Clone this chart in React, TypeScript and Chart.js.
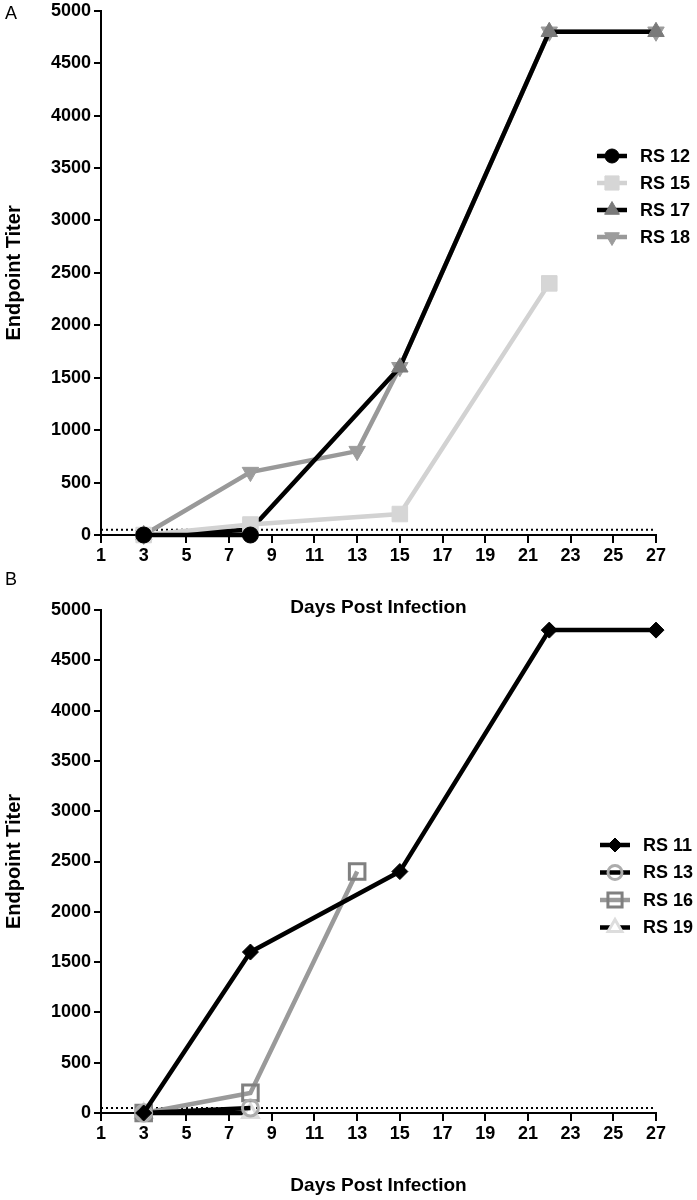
import React, { useEffect, useRef } from "react";
import { Chart, registerables } from "chart.js";
import { drawPoint } from "chart.js/helpers";

Chart.register(...registerables);

// ---------- data ----------
const xTickMin = 1;
const xTickMax = 27;
const xTickStep = 2;
const yTickMax = 5000;
const yTickStep = 500;
const detectionLimit = 50;

// Panel A
const rs12Days = [3, 8];
const rs12Titer = [0, 0];
const rs15Days = [3, 8, 15, 22];
const rs15Titer = [0, 100, 200, 2400];
const rs17Days = [3, 8, 15, 22, 27];
const rs17Titer = [0, 50, 1600, 4800, 4800];
const rs18Days = [3, 8, 13, 15, 22, 27];
const rs18Titer = [0, 600, 800, 1600, 4800, 4800];

// Panel B
const rs11Days = [3, 8, 15, 22, 27];
const rs11Titer = [0, 1600, 2400, 4800, 4800];
const rs13Days = [3, 8];
const rs13Titer = [0, 50];
const rs16Days = [3, 8, 13];
const rs16Titer = [0, 200, 2400];
const rs19Days = [3, 8];
const rs19Titer = [0, 0];

const FONT = "'Liberation Sans', Arial, Helvetica, sans-serif";

const pts = (xs: number[], ys: number[]) => xs.map((x, i) => ({ x, y: ys[i] }));

function series(
  label: string,
  xs: number[],
  ys: number[],
  line: string,
  style: string,
  fill: string,
  border: string,
  radius: number,
  pbw: number,
  rotation = 0
) {
  return {
    label,
    data: pts(xs, ys),
    borderColor: line,
    backgroundColor: line,
    borderWidth: 4.5,
    pointStyle: style,
    pointRotation: rotation,
    pointBackgroundColor: fill,
    pointBorderColor: border,
    pointBorderWidth: pbw,
    pointRadius: radius,
    pointHoverRadius: radius,
    tension: 0,
    clip: false,
  };
}

function limitLine() {
  return {
    label: "",
    data: [
      { x: xTickMin, y: detectionLimit },
      { x: xTickMax, y: detectionLimit },
    ],
    borderColor: "#000",
    borderWidth: 2,
    borderDash: [2, 3],
    pointRadius: 0,
    tension: 0,
    clip: false,
  };
}

const legendPlugin = {
  id: "customLegend",
  afterDraw(chart: any, _args: any, opts: any) {
    const ctx = chart.ctx;
    const dsets = chart.data.datasets.filter((d: any) => d.label);
    ctx.save();
    dsets.forEach((ds: any, i: number) => {
      const y = opts.y + i * opts.spacing;
      const x = opts.x;
      ctx.save();
      ctx.strokeStyle = ds.borderColor;
      ctx.lineWidth = ds.borderWidth;
      ctx.setLineDash(ds.borderDash || []);
      ctx.beginPath();
      ctx.moveTo(x, y);
      ctx.lineTo(x + 30, y);
      ctx.stroke();
      ctx.restore();
      ctx.save();
      ctx.fillStyle = ds.pointBackgroundColor;
      ctx.strokeStyle = ds.pointBorderColor;
      ctx.lineWidth = ds.pointBorderWidth;
      drawPoint(
        ctx,
        {
          pointStyle: ds.pointStyle,
          rotation: ds.pointRotation,
          radius: ds.pointRadius - 1,
          borderWidth: ds.pointBorderWidth,
        } as any,
        x + 15,
        y
      );
      ctx.restore();
      ctx.fillStyle = "#000";
      ctx.font = `bold 18px ${FONT}`;
      ctx.textBaseline = "middle";
      ctx.textAlign = "left";
      ctx.fillText(ds.label, x + 43, y + 1);
    });
    ctx.restore();
  },
};

function makeOptions(xHeight: number, titlePadBottom: number, padTop: number, legend: any) {
  const font = { family: FONT, size: 18, weight: "bold" as const };
  const xTitleFont = { family: FONT, size: 19, weight: "bold" as const };
  const yTitleFont = { family: FONT, size: 20, weight: "bold" as const };
  return {
    responsive: false,
    animation: false as const,
    layout: { padding: { left: 0, top: padTop, right: 41, bottom: 0 } },
    plugins: {
      legend: { display: false },
      tooltip: { enabled: false },
      customLegend: legend,
    },
    scales: {
      x: {
        type: "linear" as const,
        min: xTickMin,
        max: xTickMax,
        ticks: {
          stepSize: xTickStep,
          font,
          color: "#000",
          padding: 2,
          maxRotation: 0,
          callback: (v: any) => String(v),
        },
        grid: { drawOnChartArea: false, drawTicks: true, tickLength: 8, color: "#000", lineWidth: 2 },
        border: { display: true, color: "#000", width: 2 },
        title: {
          display: true,
          text: "Days Post Infection",
          font: xTitleFont,
          color: "#000",
          padding: { top: 0, bottom: titlePadBottom },
        },
        afterFit: (s: any) => {
          s.height = xHeight;
        },
      },
      y: {
        min: 0,
        max: yTickMax,
        ticks: { stepSize: yTickStep, font, color: "#000", padding: 3, callback: (v: any) => String(v) },
        grid: { drawOnChartArea: false, drawTicks: true, tickLength: 7, color: "#000", lineWidth: 2 },
        border: { display: true, color: "#000", width: 2 },
        title: {
          display: true,
          text: "Endpoint Titer",
          font: yTitleFont,
          color: "#000",
          padding: { top: 2, bottom: 0 },
        },
        afterFit: (s: any) => {
          s.width = 101;
        },
      },
    },
  };
}

export default function App() {
  const refA = useRef<HTMLCanvasElement>(null);
  const refB = useRef<HTMLCanvasElement>(null);

  useEffect(() => {
    const a = new Chart(refA.current as HTMLCanvasElement, {
      type: "line",
      data: {
        datasets: [
          series("RS 12", rs12Days, rs12Titer, "#000", "circle", "#000", "#000", 8, 1),
          series("RS 15", rs15Days, rs15Titer, "#d2d2d2", "rect", "#d6d6d6", "#d6d6d6", 11, 1),
          series("RS 17", rs17Days, rs17Titer, "#000", "triangle", "#7a7a7a", "#7a7a7a", 9.5, 1),
          series("RS 18", rs18Days, rs18Titer, "#999999", "triangle", "#9c9c9c", "#9c9c9c", 9.5, 1, 180),
          limitLine(),
        ] as any,
      },
      options: makeOptions(90, 6, 7, { x: 597, y: 159, spacing: 27 }) as any,
      plugins: [legendPlugin],
    });
    const b = new Chart(refB.current as HTMLCanvasElement, {
      type: "line",
      data: {
        datasets: [
          series("RS 11", rs11Days, rs11Titer, "#000", "rectRot", "#000", "#000", 8, 1),
          series("RS 13", rs13Days, rs13Titer, "#000", "circle", "rgba(0,0,0,0)", "#acacac", 8, 3),
          series("RS 16", rs16Days, rs16Titer, "#9a9a9a", "rect", "rgba(0,0,0,0)", "#808080", 11, 3),
          series("RS 19", rs19Days, rs19Titer, "#000", "triangle", "#ffffff", "#dddddd", 9, 3),
          limitLine(),
        ] as any,
      },
      options: makeOptions(87, 3, 50, { x: 600, y: 845 - 560, spacing: 27.5 }) as any,
      plugins: [legendPlugin],
    });
    return () => {
      a.destroy();
      b.destroy();
    };
  }, []);

  const label: React.CSSProperties = {
    position: "absolute",
    fontFamily: FONT,
    fontSize: 18,
    color: "#000",
    lineHeight: "20px",
  };

  return (
    <div style={{ position: "absolute", left: 0, top: 0, width: 697, height: 1200, background: "#fff", overflow: "hidden" }}>
      <canvas
        ref={refA}
        width={697}
        height={628}
        style={{ position: "absolute", left: 0, top: -3, width: 697, height: 628 }}
      />
      <canvas
        ref={refB}
        width={697}
        height={640}
        style={{ position: "absolute", left: 0, top: 560, width: 697, height: 640 }}
      />
      <div style={{ ...label, left: 5, top: 3 }}>A</div>
      <div style={{ ...label, left: 5, top: 569 }}>B</div>
    </div>
  );
}
